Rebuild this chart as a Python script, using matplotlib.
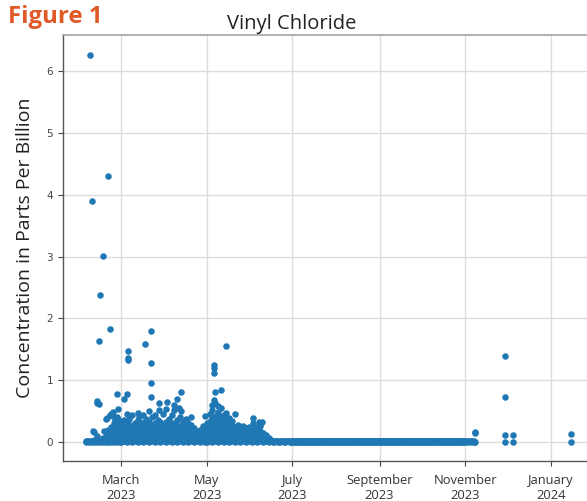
import matplotlib
matplotlib.use("Agg")
import matplotlib.pyplot as plt
import matplotlib.dates as mdates
import pandas as pd

# Vinyl chloride readings (ppb), grouped by month: (day, [values read that day])
FEB_2023 = [
    (4, [0.0, 0.01]), (5, [0.01]), (6, [0.0, 0.02]), (7, [0.01, 6.26]),
    (8, [0.0, 3.90]), (9, [0.01, 0.18]), (10, [0.0, 0.03, 0.16]),
    (11, [0.01, 0.02]), (12, [0.0, 0.10, 0.63, 0.66]), (13, [0.01, 0.61, 1.63]),
    (14, [0.0, 2.38]), (15, [0.01, 0.04]), (16, [0.0, 0.06, 3.01]),
    (17, [0.01, 0.18]), (18, [0.0, 0.08, 0.37]), (19, [0.01, 0.12, 0.39]),
    (20, [0.0, 0.20, 4.30]), (21, [0.01, 0.10, 0.44, 1.83]),
    (22, [0.0, 0.05, 0.25, 0.46]), (23, [0.01, 0.15, 0.42, 0.48]),
    (24, [0.0, 0.08, 0.30]), (25, [0.01, 0.12, 0.22, 0.36]),
    (26, [0.0, 0.05, 0.18, 0.41, 0.78]), (27, [0.01, 0.10, 0.28, 0.38, 0.53]),
    (28, [0.0, 0.06, 0.14, 0.20, 0.32]),
]

MAR_2023 = [
    (1, [0.0, 0.06, 0.12, 0.18, 0.24, 0.33]),
    (2, [0.01, 0.04, 0.09, 0.15, 0.21]),
    (3, [0.01, 0.07, 0.13, 0.19, 0.28, 0.36, 0.70]),
    (4, [0.02, 0.04, 0.10, 0.16, 0.22]),
    (5, [0.0, 0.06, 0.12, 0.18, 0.23, 0.45, 0.78]),
    (6, [0.02, 0.03, 0.09, 0.15, 0.31, 1.33, 1.36, 1.47]),
    (7, [0.01, 0.07, 0.13, 0.20, 0.26, 0.38]),
    (8, [0.03, 0.09, 0.15, 0.22]),
    (9, [0.0, 0.06, 0.12, 0.18, 0.25, 0.43]),
    (10, [0.03, 0.09, 0.15, 0.21, 0.28]),
    (11, [0.01, 0.07, 0.13, 0.19, 0.30]),
    (12, [0.03, 0.09, 0.15, 0.22]),
    (13, [0.0, 0.06, 0.12, 0.18, 0.24, 0.35, 0.47]),
    (14, [0.03, 0.09, 0.15, 0.21, 0.41]),
    (15, [0.01, 0.07, 0.13, 0.19, 0.27]),
    (16, [0.03, 0.09, 0.15, 0.22, 0.30]),
    (17, [0.0, 0.06, 0.12, 0.18, 0.24, 0.31, 0.43]),
    (18, [0.03, 0.09, 0.15, 0.21, 1.59]),
    (19, [0.01, 0.07, 0.13, 0.20, 0.28, 0.37]),
    (20, [0.03, 0.09, 0.15, 0.22, 0.29]),
    (21, [0.0, 0.06, 0.12, 0.18, 0.25, 0.33, 0.50]),
    (22, [0.03, 0.09, 0.15, 0.21, 0.73, 0.96, 1.28, 1.80]),
    (23, [0.01, 0.07, 0.13, 0.19, 0.26, 0.40]),
    (24, [0.03, 0.09, 0.15, 0.22]),
    (25, [0.0, 0.06, 0.12, 0.18, 0.24, 0.30, 0.43]),
    (26, [0.03, 0.09, 0.15, 0.21, 0.27]),
    (27, [0.01, 0.07, 0.13, 0.20, 0.27, 0.36]),
    (28, [0.03, 0.09, 0.15, 0.22, 0.52, 0.63]),
    (29, [0.0, 0.06, 0.12, 0.18, 0.25, 0.32]),
    (30, [0.03, 0.09, 0.15, 0.21]),
    (31, [0.01, 0.07, 0.13, 0.19, 0.28, 0.45]),
]

APR_2023 = [
    (1, [0.03, 0.09, 0.15, 0.22]),
    (2, [0.0, 0.06, 0.12, 0.18, 0.24, 0.33, 0.54]),
    (3, [0.03, 0.09, 0.15, 0.21, 0.65]),
    (4, [0.01, 0.07, 0.13, 0.19, 0.27, 0.38]),
    (5, [0.03, 0.09, 0.15, 0.22, 0.29]),
    (6, [0.0, 0.06, 0.12, 0.18, 0.25, 0.31, 0.44]),
    (7, [0.03, 0.09, 0.15, 0.21]),
    (8, [0.01, 0.07, 0.13, 0.20, 0.29, 0.52, 0.60]),
    (9, [0.03, 0.09, 0.15, 0.22, 0.27]),
    (10, [0.0, 0.06, 0.12, 0.18, 0.24, 0.35, 0.70]),
    (11, [0.03, 0.09, 0.15, 0.21, 0.55]),
    (12, [0.01, 0.07, 0.13, 0.19, 0.26, 0.41]),
    (13, [0.03, 0.09, 0.15, 0.22, 0.50, 0.81]),
    (14, [0.0, 0.06, 0.12, 0.18, 0.25, 0.32]),
    (15, [0.03, 0.09, 0.15, 0.21]),
    (16, [0.01, 0.07, 0.13, 0.19, 0.28, 0.37]),
    (17, [0.03, 0.09, 0.15, 0.22]),
    (18, [0.0, 0.06, 0.12, 0.18, 0.24, 0.30]),
    (19, [0.03, 0.09, 0.15, 0.21]),
    (20, [0.01, 0.07, 0.13, 0.20, 0.27, 0.40]),
    (21, [0.03, 0.09, 0.15]),
    (22, [0.0, 0.06, 0.12, 0.18, 0.22]),
    (23, [0.03, 0.09, 0.14]),
    (24, [0.01, 0.06, 0.12, 0.16]),
    (25, [0.03, 0.08]),
    (26, [0.0, 0.05, 0.10, 0.15, 0.20]),
    (27, [0.03, 0.09, 0.13]),
    (28, [0.01, 0.06, 0.11, 0.17, 0.26]),
    (29, [0.03, 0.08, 0.14]),
    (30, [0.0, 0.05, 0.10, 0.16, 0.42]),
]

MAY_2023 = [
    (1, [0.0, 0.06, 0.12, 0.19, 0.30]),
    (2, [0.03, 0.09, 0.15, 0.22]),
    (3, [0.01, 0.07, 0.13, 0.19, 0.25, 0.33, 0.45]),
    (4, [0.03, 0.09, 0.15, 0.21, 0.28, 0.36]),
    (5, [0.0, 0.06, 0.12, 0.18, 0.24, 0.30, 0.38, 0.52, 0.60]),
    (6, [0.03, 0.09, 0.15, 0.21, 0.27, 0.68, 1.12, 1.20, 1.25]),
    (7, [0.01, 0.07, 0.13, 0.19, 0.25, 0.31, 0.42, 0.63, 0.81]),
    (8, [0.03, 0.09, 0.15, 0.21, 0.28, 0.35]),
    (9, [0.0, 0.06, 0.12, 0.18, 0.24, 0.30, 0.36, 0.48, 0.58]),
    (10, [0.03, 0.09, 0.15, 0.21, 0.27, 0.33, 0.42]),
    (11, [0.01, 0.07, 0.13, 0.19, 0.25, 0.32, 0.40, 0.55, 0.84]),
    (12, [0.03, 0.09, 0.15, 0.21, 0.28, 0.35]),
    (13, [0.0, 0.06, 0.12, 0.18, 0.24, 0.30, 0.37, 0.44]),
    (14, [0.03, 0.09, 0.15, 0.21, 0.27]),
    (15, [0.01, 0.07, 0.13, 0.19, 0.25, 0.33, 0.47, 1.55]),
    (16, [0.03, 0.09, 0.15, 0.21, 0.28]),
    (17, [0.0, 0.06, 0.12, 0.18, 0.24, 0.31, 0.39]),
    (18, [0.03, 0.09, 0.15, 0.21]),
    (19, [0.01, 0.07, 0.13, 0.19, 0.26, 0.34]),
    (20, [0.03, 0.09, 0.15, 0.22]),
    (21, [0.0, 0.06, 0.12, 0.18, 0.24, 0.45]),
    (22, [0.03, 0.09, 0.15, 0.20]),
    (23, [0.01, 0.07, 0.13, 0.19, 0.28]),
    (24, [0.03, 0.09, 0.15]),
    (25, [0.0, 0.06, 0.12, 0.18, 0.23]),
    (26, [0.03, 0.09, 0.15]),
    (27, [0.01, 0.07, 0.13, 0.20, 0.26]),
    (28, [0.03, 0.09, 0.14]),
    (29, [0.0, 0.06, 0.12, 0.17, 0.22]),
    (30, [0.03, 0.09, 0.15]),
    (31, [0.01, 0.07, 0.13, 0.19, 0.25]),
]

JUN_2023 = [
    (1, [0.03, 0.09, 0.15]), (2, [0.0, 0.06, 0.12, 0.18, 0.22]),
    (3, [0.03, 0.09, 0.30, 0.39]), (4, [0.01, 0.07, 0.13, 0.19, 0.24]),
    (5, [0.03, 0.09, 0.15]), (6, [0.0, 0.06, 0.12, 0.17, 0.22]),
    (7, [0.03, 0.09, 0.28, 0.32]), (8, [0.01, 0.06, 0.12, 0.18, 0.26]),
    (9, [0.03, 0.09, 0.33]), (10, [0.0, 0.05, 0.10, 0.15]),
    (11, [0.03, 0.07]), (12, [0.01, 0.04, 0.09, 0.12]), (13, [0.02, 0.06]),
    (14, [0.0, 0.03, 0.07]), (15, [0.02]), (16, [0.01, 0.04]), (17, [0.0]),
    (18, [0.0, 0.02]), (19, [0.01]), (20, [0.01, 0.02]), (21, [0.0]),
    (22, [0.0, 0.02]), (23, [0.01]), (24, [0.01, 0.02]), (25, [0.0]),
    (26, [0.0, 0.02]), (27, [0.01]), (28, [0.01, 0.02]), (29, [0.0]),
    (30, [0.0, 0.02]),
]

# Quiet period: daily samples, all near zero
JUL_DAYS = list(range(1, 32))
AUG_DAYS = list(range(1, 32))
SEP_DAYS = list(range(1, 31))
OCT_DAYS = list(range(1, 32))
QUIET_PPB = [0.0, 0.01, 0.02]

NOV_2023 = [(1, [0.0, 0.02]), (2, [0.01]), (3, [0.0, 0.02]), (4, [0.01]),
            (5, [0.0, 0.02]), (6, [0.01]), (7, [0.0, 0.02]), (8, [0.0, 0.14, 0.17]),
            (29, [0.0, 0.11, 0.73, 1.39])]
DEC_2023 = [(5, [0.0, 0.11])]
JAN_2024 = [(15, [0.0, 0.13])]


def expand(year, month, rows):
    xs, ys = [], []
    for day, vals in rows:
        for v in vals:
            xs.append(pd.Timestamp(year, month, day))
            ys.append(v)
    return xs, ys


blocks = [
    (2023, 2, FEB_2023), (2023, 3, MAR_2023), (2023, 4, APR_2023),
    (2023, 5, MAY_2023), (2023, 6, JUN_2023),
    (2023, 7, [(d, QUIET_PPB) for d in JUL_DAYS]),
    (2023, 8, [(d, QUIET_PPB) for d in AUG_DAYS]),
    (2023, 9, [(d, QUIET_PPB) for d in SEP_DAYS]),
    (2023, 10, [(d, QUIET_PPB) for d in OCT_DAYS]),
    (2023, 11, NOV_2023), (2023, 12, DEC_2023), (2024, 1, JAN_2024),
]
dates, ppb = [], []
for y, m, rows in blocks:
    xs, ys = expand(y, m, rows)
    dates += xs
    ppb += ys

W, H = 587, 501
fig = plt.figure(figsize=(W / 100, H / 100), dpi=100)
# axes runs past the right edge of the (cropped) picture
ax = fig.add_axes([63 / W, 40 / H, 533 / W, 426 / H])

ax.scatter(dates, ppb, s=22, color="#1f77b4", linewidths=0, zorder=3)

mar1 = mdates.date2num(pd.Timestamp(2023, 3, 1))
ax.set_xlim(mar1 - 41.3, mar1 - 41.3 + 379.4)
ax.set_ylim(-0.307, 6.586)

ax.xaxis.set_major_locator(mdates.MonthLocator(bymonth=[1, 3, 5, 7, 9, 11]))
ax.xaxis.set_major_formatter(mdates.DateFormatter("%B\n%Y"))
ax.set_yticks(range(7))

ax.grid(True, color="#dcdcdc", linewidth=1.0, zorder=0)
ax.set_axisbelow(True)
for side in ("left", "bottom"):
    ax.spines[side].set_color("#555555")
    ax.spines[side].set_linewidth(1.0)
ax.spines["top"].set_color("#aaaaaa")
ax.spines["top"].set_linewidth(1.3)
ax.spines["right"].set_visible(False)

ax.tick_params(axis="y", labelsize=7.5, colors="#444444", length=3.5, width=0.8)
ax.tick_params(axis="x", length=3.5, width=0.8, colors="#444444", pad=6)
for lab in ax.get_xticklabels():
    lab.set_fontfamily("Open Sans")
    lab.set_fontsize(9.3)
    lab.set_color("#333333")

ax.set_ylabel("Concentration in Parts Per Billion", fontfamily="Open Sans",
              fontsize=14, color="#222222", labelpad=9)

fig.text(292 / W, 1 - 24 / H, "Vinyl Chloride", ha="center", va="center",
         fontfamily="Open Sans", fontsize=14.5, color="#222222")
fig.text(8 / W, 1 - 17 / H, "Figure 1", ha="left", va="center",
         fontfamily="Open Sans", fontweight="bold", fontsize=17.3, color="#e05a28")

fig.savefig("out.png", dpi=100)
